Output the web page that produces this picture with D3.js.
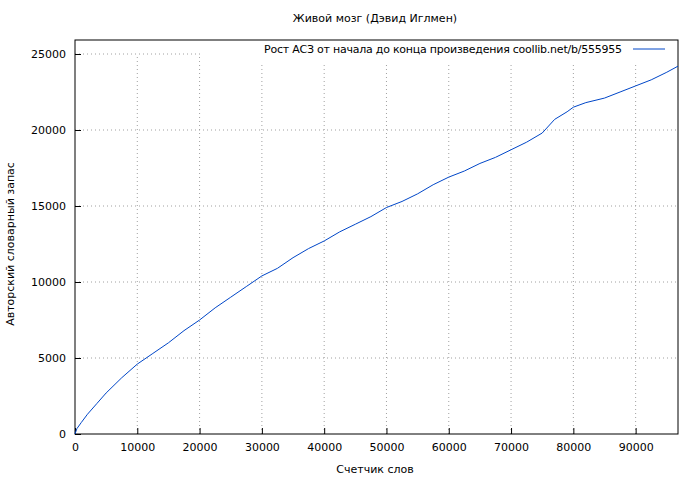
<!DOCTYPE html>
<html><head><meta charset="utf-8">
<script src="https://cdn.jsdelivr.net/npm/d3@7"></script>
<style>body{margin:0;background:#fff}text{font-family:"DejaVu Sans",sans-serif;font-size:11px;fill:#000}</style>
</head><body><svg id="c" width="700" height="480"></svg>
<script>
// word counter vs author vocabulary
const wordsRead = [0,300,1000,2000,3500,5000,7500,10000,12500,15000,17500,20000,22500,25000,27500,30000,32500,35000,37500,40000,42500,45000,47500,50000,52500,55000,57500,60000,62500,65000,67500,70000,72500,75000,77000,79000,80000,82000,85000,87500,90000,92500,95000,96800];
const vocab = [0,350,750,1300,2000,2700,3700,4600,5300,6000,6800,7500,8300,9000,9700,10400,10900,11600,12200,12700,13300,13800,14300,14900,15300,15800,16400,16900,17300,17800,18200,18700,19200,19800,20700,21200,21500,21800,22100,22500,22900,23300,23800,24200];
const xTicks = [0,10000,20000,30000,40000,50000,60000,70000,80000,90000];
const yTicks = [0,5000,10000,15000,20000,25000];

const svg = d3.select("#c");
const m = {l:75, r:678, t:54, b:434};
const x = d3.scaleLinear().domain([0,96800]).range([m.l,m.r]);
const y = d3.scaleLinear().domain([0,25000]).range([m.b,m.t]);

// grid
svg.selectAll(".gx").data(xTicks.slice(1)).join("line")
  .attr("x1",d=>x(d)).attr("x2",d=>x(d)).attr("y1",m.b).attr("y2",y(25000))
  .attr("stroke","#a0a0a0").attr("stroke-dasharray","1,3");
svg.selectAll(".gy").data(yTicks.slice(1)).join("line")
  .attr("x1",m.l).attr("x2",m.r).attr("y1",d=>y(d)).attr("y2",d=>y(d))
  .attr("stroke","#a0a0a0").attr("stroke-dasharray","1,3");

// legend background covers grid
svg.append("rect").attr("x",200).attr("y",m.t-14).attr("width",m.r-201).attr("height",22).attr("fill","#fff");

// axes
const xa = svg.append("g").attr("transform",`translate(0,${m.b})`)
  .call(d3.axisBottom(x).tickValues(xTicks).tickFormat(d3.format("d")).tickSizeInner(-6).tickSizeOuter(0).tickPadding(9));
const ya = svg.append("g").attr("transform",`translate(${m.l},0)`)
  .call(d3.axisLeft(y).tickValues(yTicks).tickFormat(d3.format("d")).tickSizeInner(-6).tickSizeOuter(0).tickPadding(9));
[xa,ya].forEach(a=>{a.selectAll("text").style("font-size","11px").style("font-family","DejaVu Sans");a.select(".domain").remove();});
svg.append("rect").attr("x",m.l).attr("y",m.t-14).attr("width",m.r-m.l).attr("height",m.b-m.t+14)
  .attr("fill","none").attr("stroke","#000");

// line
svg.append("path").datum(wordsRead.map((d,i)=>[d,vocab[i]]))
  .attr("d",d3.line().x(d=>x(d[0])).y(d=>y(d[1])))
  .attr("fill","none").attr("stroke","#0046c8").attr("stroke-width",1);

// texts
svg.append("text").attr("x",375).attr("y",22).attr("text-anchor","middle").text("Живой мозг (Дэвид Иглмен)");
svg.append("text").attr("x",375).attr("y",473).attr("text-anchor","middle").text("Счетчик слов");
svg.append("text").attr("transform","translate(14,244) rotate(-90)").attr("text-anchor","middle").text("Авторский словарный запас");
svg.append("text").attr("x",622).attr("y",53).attr("text-anchor","end").attr("textLength",358).text("Рост АСЗ от начала до конца произведения  coollib.net/b/555955");
svg.append("line").attr("x1",633).attr("x2",665).attr("y1",49).attr("y2",49).attr("stroke","#0046c8");
</script></body></html>
